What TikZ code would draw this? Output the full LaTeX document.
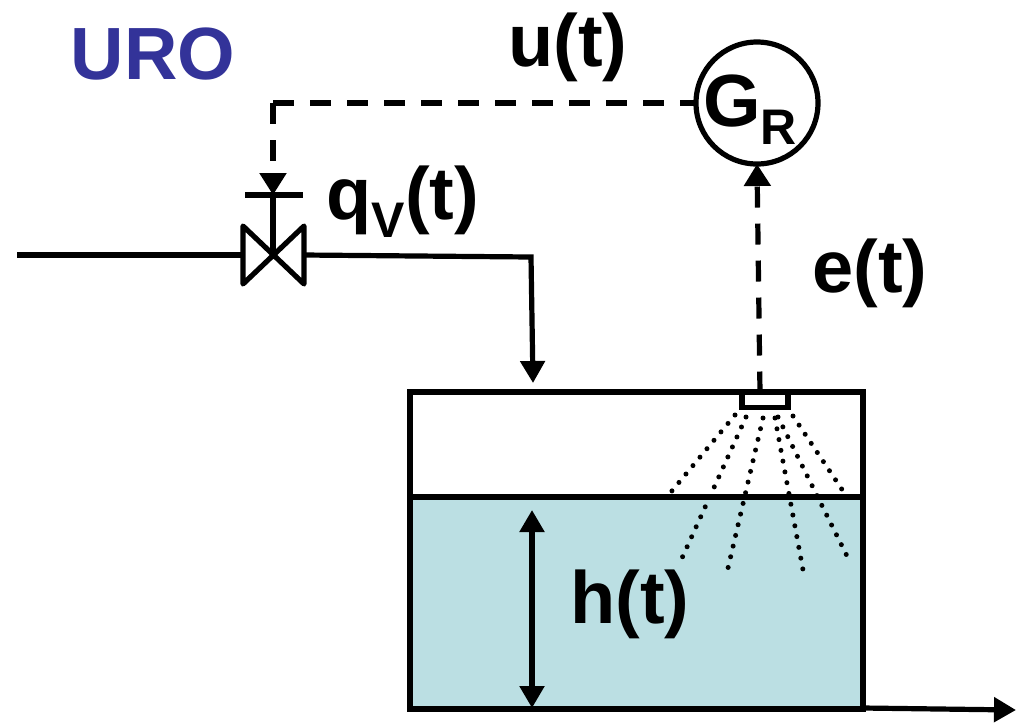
\documentclass[tikz,border=0pt]{standalone}
\usepackage{fontspec}
\usepackage{xcolor}
\setmainfont{Liberation Sans}
\usetikzlibrary{arrows.meta,positioning}
\definecolor{waterblue}{HTML}{BBDFE3}
\definecolor{titleblue}{HTML}{333399}
\newcommand{\Subtext}[1]{\raisebox{-0.24em}{\fontsize{25}{25}\selectfont #1}}

\begin{document}
\begin{tikzpicture}[
    x=0.5pt,
    y=-0.5pt,
    every node/.style={font=\fontsize{37}{37}\selectfont\bfseries, inner sep=0pt},
    pipe/.style={line width=2.6pt},
    pipearrow/.style={line width=2.6pt, -{Triangle[length=11pt, width=12pt]}},
    signalline/.style={line width=2.6pt, dash pattern=on 10.5pt off 8pt},
    signal/.style={signalline, -{Triangle[length=11pt, width=13pt]}},
    spray/.style={line width=2.5pt, line cap=round, dash pattern=on 0pt off 5.48pt},
    tankwall/.style={draw, line width=2.9pt, outer sep=0pt},
    regler/.style={circle, draw, line width=2.6pt, fill=white, minimum size=61pt, outer sep=0pt}
  ]
  \useasboundingbox (0,0) rectangle (1022,725);

  \node[text=titleblue] (title) at (153,54) {URO};

  %
  \fill[waterblue] (410,497) rectangle (863,709);
  \node[tankwall, minimum width=226.5pt, minimum height=158.5pt, anchor=north west] (tank) at (410,392) {};
  \coordinate (levelL) at (410,497);
  \coordinate (levelR) at (863,497);
  \draw[line width=2.6pt] (levelL) -- (levelR);
  \node[draw, line width=2.6pt, fill=white, minimum width=23pt, minimum height=7.5pt, outer sep=0pt] (sensor) at (765,400) {};

  %
  \foreach \xa/\ya/\xb/\yb in {735/415/671/492, 746/417/682/558, 763/418/728/568, 775/418/803/570, 778/417/847/556, 793/416/843/491}
    \draw[spray] (\xa,\ya) -- (\xb,\yb);

  %
  \node[regler] (GR) at (757,103) {};
  \node (GRtext) at (750,110) {G\Subtext{R}};

  %
  \coordinate (valve) at (273,255);
  \coordinate (actuator) at (273,195);
  \coordinate (pipestart) at (17,255);
  \coordinate (bend) at (531,257);
  \coordinate (inlet) at (533,383);
  \coordinate (corner) at (273,103);
  \coordinate (outstart) at (863,708);
  \coordinate (outend) at (1016,710);
  \draw[pipe, line join=round] (243,226) -- (304,284) -- (304,226) -- (243,284) -- cycle;
  \draw[pipe] (valve) -- (actuator);
  \draw[pipe] (245,195) -- (303,195);
  \draw[pipe] (pipestart) -- (243,255);
  \draw[pipearrow] (304,255) -- (bend) -- (inlet);
  \draw[signalline] (corner) -- (GR.west);
  \draw[signal] (corner) -- (actuator);
  \draw[signal] (sensor.north -| 760,0) -- (GR.south);
  \draw[line width=2.6pt, {Triangle[length=11pt, width=12pt]}-{Triangle[length=11pt, width=12pt]}] (532,510) -- (532,708);
  \draw[pipearrow] (outstart) -- (outend);

  %
  \node (ulabel) at (568,47) {u(t)};
  \node (qlabel) at (403,202) {q\Subtext{V}(t)};
  \node (elabel) at (870,273) {e(t)};
  \node (hlabel) at (630,604) {h(t)};
\end{tikzpicture}
\end{document}
